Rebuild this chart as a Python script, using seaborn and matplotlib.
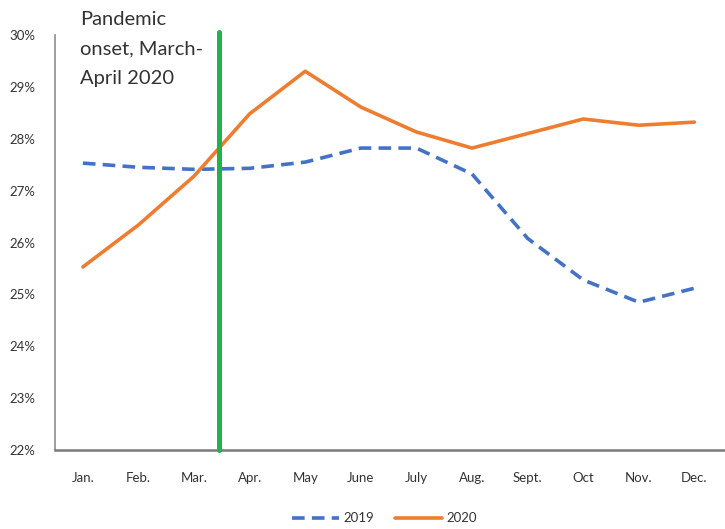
import matplotlib
matplotlib.use("Agg")
import matplotlib.pyplot as plt
import seaborn as sns
import pandas as pd
from matplotlib.ticker import FuncFormatter

# datos (porcentaje)
months = ["Jan.", "Feb.", "Mar.", "Apr.", "May", "June", "July",
          "Aug.", "Sept.", "Oct", "Nov.", "Dec."]
vals_2019 = [27.53, 27.45, 27.41, 27.43, 27.55, 27.82, 27.82,
             27.32, 26.08, 25.28, 24.85, 25.12]
vals_2020 = [25.53, 26.34, 27.28, 28.48, 29.30, 28.61, 28.13,
             27.82, 28.10, 28.38, 28.26, 28.32]
onset_pos = 2.44   # entre Mar. y Apr.
onset_label = "Pandemic\nonset, March-\nApril 2020"

df = pd.DataFrame({
    "idx": list(range(len(months))) * 2,
    "value": vals_2019 + vals_2020,
    "year": ["2019"] * len(months) + ["2020"] * len(months),
})

sns.set_style("white")
plt.rcParams["font.family"] = ["Lato", "DejaVu Sans"]

fig = plt.figure(figsize=(7.25, 5.29), dpi=100)
ax = fig.add_axes([0.076, 0.149, 0.924, 0.785])

colores = {"2019": "#4472C4", "2020": "#ED7D31"}
sns.lineplot(data=df, x="idx", y="value", hue="year", style="year",
             palette=colores, dashes={"2019": (3.5, 2), "2020": ""},
             linewidth=2.6, legend=False, ax=ax)

# linea verde del inicio de la pandemia
ax.plot([onset_pos, onset_pos], [22, 30.05], color="#21B24B", lw=3.6,
        solid_capstyle="round", clip_on=False, zorder=5)
ax.text(-0.05, 30.47, onset_label, fontsize=14.5, color="#333333",
        va="top", ha="left", linespacing=1.9)

ax.set_xlim(-0.5, 11.55)
ax.set_ylim(22, 30)
ax.set_xticks(range(len(months)))
ax.set_xticklabels(months)
ax.set_yticks(range(22, 31))
ax.yaxis.set_major_formatter(FuncFormatter(lambda v, p: "%d%%" % v))
ax.tick_params(axis="both", labelsize=9.5, colors="#333333", length=0)
ax.tick_params(axis="x", pad=16)
ax.tick_params(axis="y", pad=14)
ax.set_xlabel("")
ax.set_ylabel("")

for s in ["top", "right"]:
    ax.spines[s].set_visible(False)
ax.spines["left"].set_color("#8c8c8c")
ax.spines["left"].set_linewidth(1.2)
ax.spines["bottom"].set_color("#7a7a7a")
ax.spines["bottom"].set_linewidth(1.8)

# leyenda
h1, = ax.plot([], [], color=colores["2019"], lw=2.6, dashes=(3.5, 2))
h2, = ax.plot([], [], color=colores["2020"], lw=2.6)
fig.legend([h1, h2], ["2019", "2020"], loc="center", ncol=2,
           bbox_to_anchor=(0.53, 0.02), frameon=False, fontsize=9.5,
           handlelength=3.6, handletextpad=0.3, columnspacing=1.6,
           labelcolor="#333333")

fig.savefig("out.png", dpi=100)
